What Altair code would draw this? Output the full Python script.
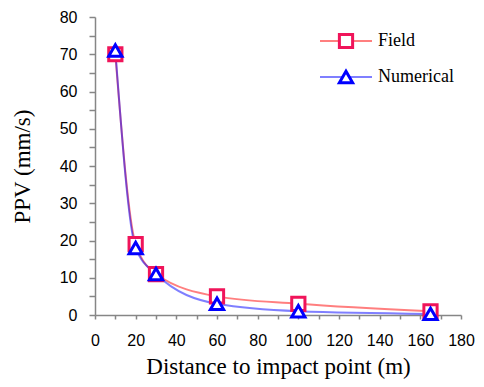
import altair as alt
import pandas as pd

distance = [10, 20, 30, 60, 100, 165]
field = [70, 19, 11, 5, 3, 1]
numerical = [71, 18, 11, 3, 1, 0.3]
series_names = ["Field", "Numerical"]

df = pd.DataFrame({
    "Distance": distance * 2,
    "PPV": field + numerical,
    "Series": [series_names[0]] * len(distance) + [series_names[1]] * len(distance),
})

line_colors = {"Field": "#FF0000", "Numerical": "#0000FF"}
marker_colors = {"Field": "#F0145A", "Numerical": "#0000FF"}
shapes = {"Field": "square", "Numerical": "triangle-up"}

x_scale = alt.Scale(domain=[0, 180], nice=False, zero=True)
y_scale = alt.Scale(domain=[0, 80], nice=False)

x_axis = alt.Axis(
    title="Distance to impact point (m)",
    values=list(range(0, 181, 10)),
    labelExpr="datum.value % 20 == 0 ? datum.label : ''",
    grid=False, tickSize=4, labelPadding=13, titlePadding=7,
    labelOverlap=False, labelFlush=False,
)
y_axis = alt.Axis(
    title="PPV (mm/s)",
    values=list(range(0, 81, 5)),
    labelExpr="datum.value % 10 == 0 ? datum.label : ''",
    grid=False, tickSize=6, labelPadding=12, titlePadding=25,
    labelOverlap=False, labelFlush=False,
)

PLOT_LEFT = 95
PLOT_TOP = 17
PLOT_W = 366
PLOT_H = 298
MARKER_SIZE = 175

base = alt.Chart(df)
layers = []
for s in series_names:
    d = base.transform_filter(alt.datum.Series == s)
    layers.append(
        d.mark_line(interpolate="monotone", color=line_colors[s], strokeWidth=2, opacity=0.5).encode(
            x=alt.X("Distance:Q", scale=x_scale, axis=x_axis),
            y=alt.Y("PPV:Q", scale=y_scale, axis=y_axis),
        )
    )
for s in series_names:
    d = base.transform_filter(alt.datum.Series == s)
    layers.append(
        d.mark_point(shape=shapes[s], color=marker_colors[s], fill="white", filled=False,
                     strokeWidth=3, size=MARKER_SIZE, opacity=1).encode(
            x=alt.X("Distance:Q", scale=x_scale, axis=x_axis),
            y=alt.Y("PPV:Q", scale=y_scale, axis=y_axis),
        )
    )

# manual legend (pixel positions inside the plot area)
legend_y = {"Field": 41 - PLOT_TOP, "Numerical": 77 - PLOT_TOP}
lx0, lx1, lxm, ltx = 320 - PLOT_LEFT, 372 - PLOT_LEFT, 346 - PLOT_LEFT, 378 - PLOT_LEFT
for s in series_names:
    ly = legend_y[s]
    layers.append(
        alt.Chart(pd.DataFrame({"Series": [s]})).mark_rule(color=line_colors[s], strokeWidth=2, opacity=0.5).encode(
            x=alt.value(lx0), x2=alt.value(lx1), y=alt.value(ly)
        )
    )
    layers.append(
        alt.Chart(pd.DataFrame({"Series": [s]})).mark_point(
            shape=shapes[s], color=marker_colors[s], fill="white", filled=False, strokeWidth=3,
            size=MARKER_SIZE, opacity=1
        ).encode(x=alt.value(lxm), y=alt.value(ly))
    )
    layers.append(
        alt.Chart(pd.DataFrame({"Series": [s]})).mark_text(
            align="left", baseline="middle", font="Liberation Serif", fontSize=18, color="black"
        ).encode(x=alt.value(ltx), y=alt.value(ly), text="Series:N")
    )

pad_left = PLOT_LEFT - 8
pad_top = PLOT_TOP - 8
chart = alt.layer(*layers).properties(
    width=PLOT_W, height=PLOT_H,
    autosize=alt.AutoSizeParams(type="none"),
    padding={"left": pad_left, "top": pad_top, "right": 468 - pad_left - PLOT_W,
             "bottom": 371 - pad_top - PLOT_H},
).configure_view(stroke=None).configure_axis(
    domainColor="#868686", domainWidth=1.5, tickColor="#868686", tickWidth=1.5,
    labelFont="Liberation Sans", labelFontSize=16, labelColor="black",
    titleFont="Liberation Serif", titleFontSize=23, titleFontWeight="normal", titleColor="black",
    labelOverlap=False,
)

chart.save("out.html", embed_options={"renderer": "svg", "actions": False})
